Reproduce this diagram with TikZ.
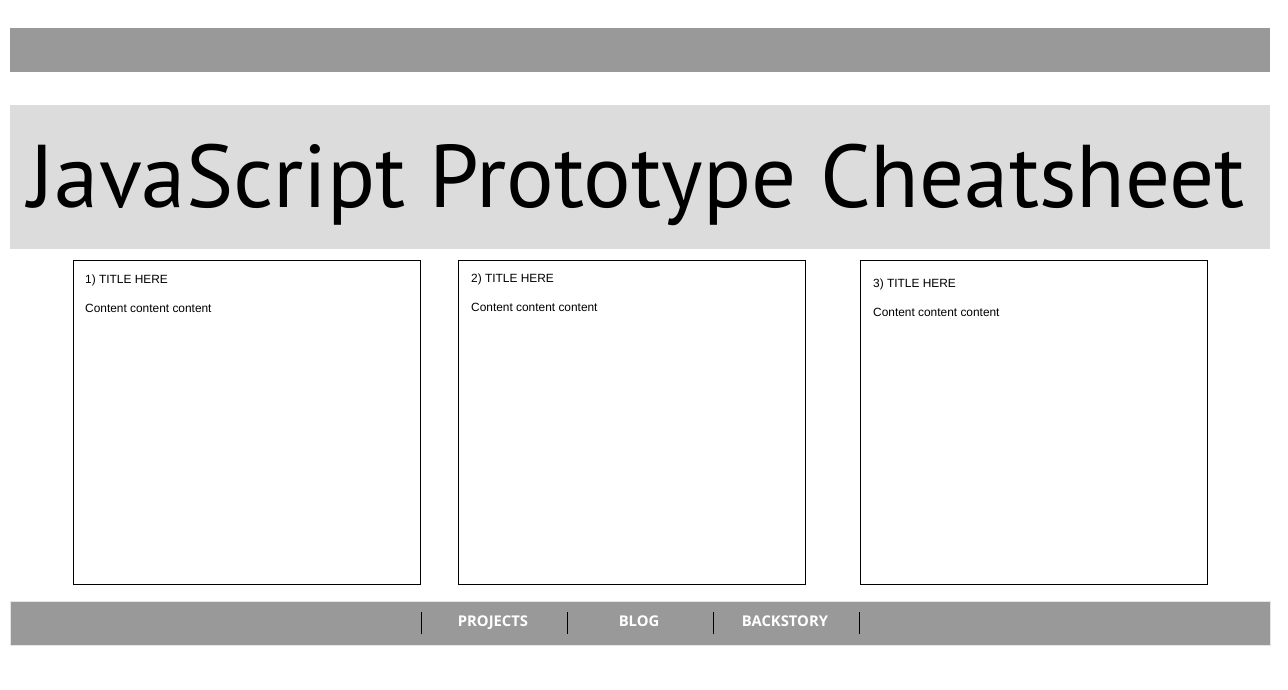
\documentclass[tikz,border=0pt]{standalone}
\usepackage{fontspec}
\setmainfont{Liberation Sans}
\newfontfamily\titlefont{PT Sans}
\newfontfamily\navfont{Open Sans}
\definecolor{bargray}{HTML}{999999}
\definecolor{bandgray}{HTML}{DCDCDC}
\begin{document}
\begin{tikzpicture}[x=1pt,y=-1pt,
  bar/.style={fill=bargray,draw=none},
  panel/.style={draw=black,line width=1pt,fill=white},
  paneltitle/.style={anchor=west,font=\fontsize{11.9}{14}\selectfont,inner sep=0pt},
  navitem/.style={anchor=base,font=\navfont\bfseries\fontsize{14.8}{17}\selectfont,text=white,inner sep=0pt},
  navsep/.style={draw=black,line width=0.8pt}]
  \useasboundingbox (0,0) rectangle (1288,689);
  % top bar
  \fill[bar] (10,28) rectangle (1270,72);
  % title band
  \fill[bandgray] (10,105) rectangle (1270,249);
  \node[inner sep=0pt] (title) at (637,185)
    {\resizebox{1216pt}{!}{\titlefont\fontsize{80}{90}\selectfont JavaScript Prototype Cheatsheet}};
  % panels
  \draw[panel] (73,260) rectangle (420,584);
  \node[paneltitle] (t1) at (85,280) {1) TITLE HERE};
  \node[paneltitle] (c1) at (85,308) {Content content content};
  \draw[panel] (458,260) rectangle (805,584);
  \node[paneltitle] (t2) at (471,279) {2) TITLE HERE};
  \node[paneltitle] (c2) at (471,307) {Content content content};
  \draw[panel] (860,260) rectangle (1207,584);
  \node[paneltitle] (t3) at (873,284) {3) TITLE HERE};
  \node[paneltitle] (c3) at (873,312) {Content content content};
  % footer navigation
  \fill[bar] (10,601) rectangle (1270,645);
  \draw[white!75!bargray,line width=0.8pt] (10,601) rectangle (1270,645);
  \foreach \x/\n in {421/s1,567/s2,713/s3,859/s4}
    \draw[navsep] (\x,612) coordinate (\n) -- (\x,634);
  \node[navitem] (projects) at (493,626.5) {PROJECTS};
  \node[navitem] (blog) at (639,626.5) {BLOG};
  \node[navitem] (backstory) at (785,626.5) {BACKSTORY};
\end{tikzpicture}
\end{document}
